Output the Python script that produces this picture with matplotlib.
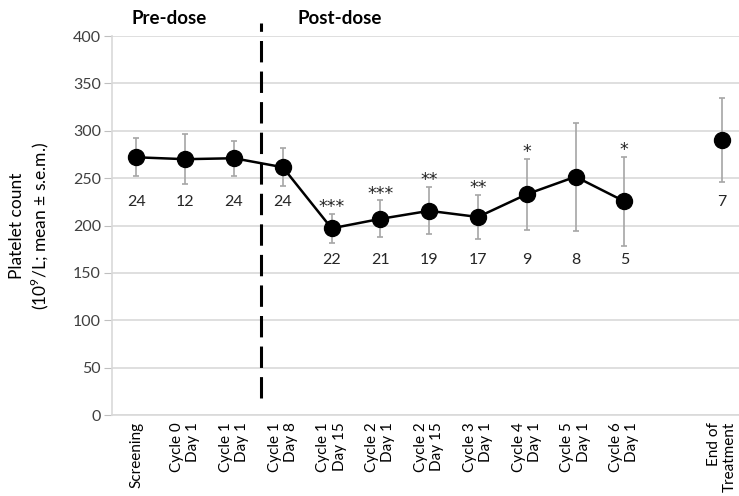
import numpy as np
import matplotlib.pyplot as plt

plt.rcParams['font.family'] = ['Lato', 'DejaVu Sans']
plt.rcParams['mathtext.fontset'] = 'custom'
plt.rcParams['mathtext.rm'] = 'Lato'

# visits along the x axis (slot 11 left empty before end of treatment)
visits = ['Screening', 'Cycle 0\nDay 1', 'Cycle 1\nDay 1', 'Cycle 1\nDay 8',
          'Cycle 1\nDay 15', 'Cycle 2\nDay 1', 'Cycle 2\nDay 15', 'Cycle 3\nDay 1',
          'Cycle 4\nDay 1', 'Cycle 5\nDay 1', 'Cycle 6\nDay 1', '', 'End of\nTreatment']

# platelet count, mean and s.e.m. (10^9/L)
mean_on = [272, 270, 271, 261.5, 197, 207, 215.5, 209, 233, 251.5, 225.5]
sem_on = [20, 26.5, 18.7, 20.3, 15.5, 19.4, 24.8, 23, 37.7, 57, 47]
mean_eot = 290
sem_eot = 44.5

n_on = [24, 12, 24, 24, 22, 21, 19, 17, 9, 8, 5]
n_eot = 7
stars = ['', '', '', '', '***', '***', '**', '**', '*', '', '*']

fig = plt.figure(figsize=(7.39, 4.96), dpi=100)
ax = fig.add_axes([0.1516, 0.1633, 0.8484, 0.7641])

x_on = np.arange(len(mean_on))
x_eot = len(visits) - 1

ax.errorbar(x_on, mean_on, yerr=sem_on, fmt='none', ecolor='#a6a6a6',
            elinewidth=1.2, capsize=2.5, capthick=1.2, zorder=2)
ax.errorbar([x_eot], [mean_eot], yerr=[sem_eot], fmt='none', ecolor='#a6a6a6',
            elinewidth=1.2, capsize=2.5, capthick=1.2, zorder=2)
ax.plot(x_on, mean_on, color='black', lw=1.8, marker='o', ms=11.5, zorder=3)
ax.plot([x_eot], [mean_eot], color='black', marker='o', ms=11.5, zorder=3)

# number of patients under each visit
for i, n in enumerate(n_on):
    ax.text(i, 225 if i < 4 else 164, str(n), ha='center', va='center',
            fontsize=11.5, color='#262626')
ax.text(x_eot, 225, str(n_eot), ha='center', va='center', fontsize=11.5, color='#262626')

# significance stars above the error bars
for i, s in enumerate(stars):
    if s:
        ax.text(i, mean_on[i] + sem_on[i] + 2, s, ha='center', va='baseline',
                fontsize=12.5, family='DejaVu Sans', color='#262626')

# pre/post dose divider
ax.plot([2.55, 2.55], [18, 414], color='black', lw=2.2, dashes=(7, 3),
        clip_on=False, zorder=4)
fig.text(0.1773, 0.9637, 'Pre-dose', fontsize=13.5, fontweight='bold', va='center')
fig.text(0.4019, 0.9637, 'Post-dose', fontsize=13.5, fontweight='bold', va='center')

ax.set_xlim(-0.5, 12.35)
ax.set_ylim(0, 400)
ax.set_yticks(np.arange(0, 401, 50))
ax.set_xticks(np.arange(len(visits)))
ax.set_xticklabels(visits, rotation=90, multialignment='right', fontsize=11)
ax.tick_params(axis='x', length=0, pad=5)
ax.tick_params(axis='y', length=6, color='#bfbfbf', labelsize=11.5, pad=2, labelcolor='#404040')
ax.grid(axis='y', color='#d9d9d9', lw=1.2)
ax.set_axisbelow(True)
for side in ['top', 'right']:
    ax.spines[side].set_visible(False)
for side in ['left', 'bottom']:
    ax.spines[side].set_color('#d9d9d9')
    ax.spines[side].set_linewidth(1.2)

ax.set_ylabel('Platelet count\n(10$^{\\mathrm{9}}$/L; mean ± s.e.m.)', fontsize=12.5,
              linespacing=1.2)
ax.yaxis.set_label_coords(-0.097, 0.5)

fig.savefig('out.png', dpi=100)
